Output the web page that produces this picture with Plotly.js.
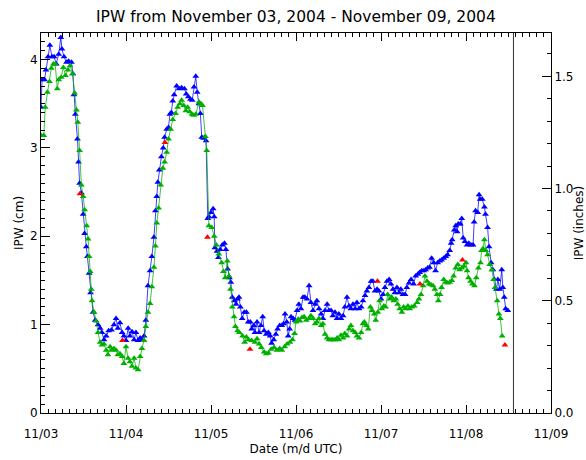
<!DOCTYPE html>
<html>
<head>
<meta charset="utf-8">
<script src="https://cdn.plot.ly/plotly-3.0.1.min.js"></script>
<style>html,body{margin:0;padding:0;background:#fff;}#chart{width:586px;height:460px;}</style>
</head>
<body>
<div id="chart"></div>
<script>
// Hours since 2004-11-03 00:00 UTC, and IPW in cm
const blueHours = [0,0.3,1.0,1.4,2.0,2.5,3.1,3.7,4.3,5.0,5.6,5.9,6.5,7.2,7.8,8.6,9.0,9.3,9.7,10.3,
  10.6,10.9,11.4,11.9,12.3,12.8,13.1,13.6,14.0,14.7,15.3,16.1,16.7,17.2,17.8,18.4,19.1,19.9,20.6,21.2,
  21.7,22.3,22.9,23.4,24.0,24.6,25.1,25.7,26.3,26.8,27.4,28.0,28.5,29.1,29.6,30.2,30.8,31.3,31.9,32.3,
  32.7,33.0,33.4,34.0,34.5,34.9,35.5,36.0,36.4,36.8,37.2,
  37.6,38.3,39.0,39.7,40.5,41.0,41.6,42.2,42.7,43.2,43.7,44.1,44.6,45.0,45.4,45.9,46.6,47.1,47.4,48.0,
  48.6,48.9,49.1,49.7,50.1,50.6,51.2,51.8,52.2,52.7,53.2,53.6,54.0,54.6,55.1,55.5,55.9,56.3,56.8,57.4,
  58.0,58.5,59.1,59.5,60.1,60.4,61.0,61.6,62.1,62.6,63.0,63.6,64.2,64.7,65.1,65.7,66.3,66.8,67.4,68.0,
  68.5,68.9,
  69.4,69.8,70.2,70.6,71.2,71.7,72.3,72.8,73.4,74.0,74.5,75.1,75.7,76.2,76.8,77.4,77.9,78.5,79.1,79.6,
  80.2,80.8,81.3,81.9,82.4,83.0,83.6,84.1,84.7,85.3,85.8,86.4,87.0,87.5,88.1,88.7,89.2,89.8,90.4,90.9,
  91.5,92.0,92.6,93.2,93.7,94.3,94.9,95.4,96.0,96.6,97.1,97.7,98.3,98.8,99.4,99.9,100.5,101.1,101.6,102.2,
  102.8,103.3,103.9,104.5,
  105.2,105.8,106.4,106.9,107.5,108.1,108.6,109.2,109.7,110.3,110.9,111.4,112.0,112.6,113.1,113.7,114.3,114.8,115.4,115.8,
  116.1,116.7,117.1,117.5,117.8,118.4,118.8,119.2,119.7,120.3,120.8,121.4,122.0,122.3,122.7,123.3,123.7,124.0,124.6,125.2,
  125.5,126.1,126.5,127.1,127.6,128.0,128.6,129.0,129.5,130.1,130.4,130.8,131.2,131.8];
const blueCm = [3.46,3.77,3.77,3.88,4.03,4.16,4.03,4.03,3.95,4.06,4.25,4.12,4.03,3.97,3.98,3.97,3.84,3.6,3.38,3.1,
  2.84,2.6,2.49,2.25,2.03,1.88,1.77,1.58,1.36,1.14,1.05,1.0,0.96,0.91,0.83,0.87,0.93,0.94,1.0,1.07,
  0.96,1.02,0.91,0.87,0.82,0.96,0.87,0.92,0.83,0.91,0.82,0.85,0.83,0.87,1.05,1.44,1.61,1.77,1.99,2.29,
  2.45,2.61,2.75,2.9,3.0,3.12,3.21,3.23,3.38,3.4,3.53,
  3.6,3.7,3.67,3.68,3.67,3.61,3.58,3.55,3.54,3.69,3.81,3.63,3.5,3.39,3.12,3.11,3.08,2.2,2.22,2.27,
  2.31,2.22,1.87,1.83,1.76,1.85,1.9,1.92,1.85,1.63,1.53,1.48,1.31,1.27,1.23,1.29,1.31,1.2,1.07,1.14,
  1.14,1.03,1.03,0.95,0.99,0.91,1.03,0.91,0.99,1.09,0.93,0.89,0.91,0.87,0.79,0.83,0.89,0.95,0.99,0.99,
  1.01,1.12,
  1.03,0.87,0.95,1.09,1.07,1.05,1.16,1.23,1.18,1.31,1.31,1.29,1.44,1.25,1.16,1.23,1.27,1.18,1.12,1.07,
  1.16,1.23,1.16,1.16,1.1,1.14,1.07,1.12,1.07,1.1,1.2,1.31,1.21,1.18,1.23,1.18,1.25,1.18,1.2,1.27,
  1.33,1.38,1.42,1.49,1.49,1.38,1.4,1.38,1.29,1.34,1.42,1.49,1.51,1.46,1.4,1.36,1.42,1.36,1.4,1.34,
  1.34,1.42,1.47,1.51,
  1.46,1.55,1.57,1.59,1.61,1.61,1.62,1.64,1.65,1.75,1.7,1.61,1.7,1.72,1.73,1.75,1.77,1.79,1.84,1.92,
  1.96,2.07,2.12,2.05,2.14,2.14,2.2,1.98,1.94,1.9,1.92,1.9,1.9,2.16,2.29,2.27,2.47,2.42,2.42,2.33,
  2.25,2.1,1.88,1.7,1.62,1.51,1.4,1.51,1.4,1.62,1.42,1.31,1.18,1.16];

const greenHours = [0.1,0.8,1.2,1.8,2.4,2.9,3.5,4.0,4.6,5.0,5.7,6.3,6.9,7.6,8.2,8.9,9.5,10.0,10.4,10.9,
  11.4,11.9,12.3,12.9,13.3,13.6,13.9,14.2,14.4,15.0,15.6,16.1,16.7,17.2,17.8,18.4,18.9,19.5,20.0,20.6,
  21.2,21.7,22.3,22.9,23.4,24.0,24.6,25.1,25.7,26.3,26.8,27.4,28.0,28.5,29.1,29.6,30.2,30.8,31.3,31.9,
  32.3,32.7,33.2,33.8,34.4,34.9,35.5,36.0,36.6,37.2,
  38.0,38.6,39.2,39.7,40.3,40.9,41.4,42.0,42.6,43.1,43.7,44.6,45.2,45.6,46.4,46.8,47.4,48.2,48.9,49.5,
  50.2,51.0,51.5,52.0,52.6,53.1,53.5,54.0,54.5,54.9,55.5,56.0,56.9,57.5,58.0,58.6,59.5,60.4,61.0,61.6,
  62.2,63.0,63.6,64.2,65.0,65.8,66.6,67.4,68.0,68.8,69.5,70.3,71.0,71.6,72.0,
  72.6,73.1,73.7,74.3,74.9,75.7,76.2,76.8,77.4,77.9,78.5,79.1,79.6,80.2,80.8,81.3,81.9,82.4,83.0,83.6,
  84.1,84.7,85.3,85.8,86.4,87.0,87.5,88.1,88.7,89.2,89.8,90.4,90.9,91.3,91.9,92.4,93.0,93.5,94.1,94.5,
  95.1,95.6,96.2,96.8,97.3,97.9,98.5,99.0,99.6,100.2,100.7,101.3,101.9,102.4,103.0,103.6,104.1,104.7,
  105.4,106.2,106.7,107.3,107.9,108.4,109.0,109.6,110.1,110.7,111.2,111.8,112.2,112.7,113.1,113.7,114.3,114.8,115.4,116.0,
  116.5,117.1,117.7,118.2,118.8,119.4,120.0,120.3,120.7,121.3,121.8,122.4,122.9,123.5,124.1,124.4,124.8,125.2,125.6,126.1,
  126.7,127.3,127.8,128.2,128.8,129.3,129.7,130.2];
const greenCm = [3.14,3.14,3.46,3.63,3.75,3.9,3.95,3.95,3.67,3.77,3.8,3.91,3.82,3.88,3.93,3.84,3.62,3.43,3.29,2.97,
  2.58,2.45,2.3,2.12,1.97,1.77,1.6,1.4,1.27,1.14,1.04,0.91,0.8,0.77,0.78,0.71,0.66,0.75,0.71,0.73,
  0.71,0.66,0.67,0.64,0.56,0.75,0.62,0.58,0.53,0.62,0.51,0.49,0.64,0.73,0.82,0.98,1.14,1.24,1.43,1.65,
  1.89,2.15,2.32,2.58,2.77,2.84,2.95,3.1,3.21,3.32,
  3.39,3.46,3.5,3.54,3.48,3.42,3.46,3.41,3.38,3.37,3.38,3.52,3.5,3.48,3.13,2.97,2.12,2.1,2.0,1.9,
  1.8,1.7,1.6,1.53,1.72,1.55,1.4,1.2,1.09,0.98,0.93,0.91,0.87,0.8,0.86,0.83,0.82,0.8,0.84,0.78,
  0.74,0.69,0.67,0.68,0.72,0.74,0.71,0.73,0.71,0.75,0.78,0.8,0.83,0.9,1.03,
  1.06,1.04,1.08,1.09,1.05,1.07,1.1,1.07,1.01,1.03,1.07,0.99,1.01,0.89,0.85,0.83,0.83,0.83,0.83,0.85,
  0.83,0.88,0.85,0.9,0.87,0.95,0.99,0.93,0.91,0.87,0.85,0.91,1.01,1.03,0.99,0.95,1.2,1.16,1.12,1.05,
  1.14,1.27,1.18,1.21,1.2,1.34,1.29,1.31,1.27,1.29,1.23,1.18,1.14,1.2,1.18,1.21,1.18,1.2,
  1.21,1.25,1.29,1.34,1.44,1.55,1.49,1.46,1.45,1.44,1.4,1.34,1.27,1.34,1.42,1.51,1.48,1.47,1.48,1.5,
  1.55,1.64,1.68,1.62,1.64,1.66,1.7,1.61,1.53,1.49,1.46,1.44,1.53,1.64,1.7,1.84,1.86,1.96,1.84,1.79,
  1.68,1.62,1.51,1.42,1.27,1.12,1.07,0.87];

const sondeHours = [11, 23, 35, 47, 59, 95, 107, 119, 131];
const sondeCm = [2.48, 0.82, 3.06, 1.99, 0.72, 1.49, 1.46, 1.73, 0.77];

const endHour = 133.4;            // vertical marker (latest data time)
const startDay = Date.UTC(2004, 10, 3);
const endDay = Date.UTC(2004, 10, 9);
const cmTop = 4.3;
const CM_PER_INCH = 2.54;

const toMs = h => startDay + h * 3600000;
const FONT = 'DejaVu Sans, Liberation Sans, sans-serif';

const traces = [
  // invisible companion series in inches, so the right-hand axis is drawn
  {x: blueHours.map(toMs), y: blueCm.map(v => v / CM_PER_INCH), yaxis: 'y2', type: 'scatter',
   mode: 'markers', marker: {opacity: 0, size: 1}, hoverinfo: 'skip', showlegend: false},
  {x: blueHours.map(toMs), y: blueCm, type: 'scatter', mode: 'lines+markers',
   line: {color: 'rgba(0,0,255,0.75)', width: 1},
   marker: {symbol: 'triangle-up', size: 6, color: '#0000ff'}, hoverinfo: 'x+y'},
  {x: greenHours.map(toMs), y: greenCm, type: 'scatter', mode: 'lines+markers',
   line: {color: 'rgba(0,175,0,0.75)', width: 1},
   marker: {symbol: 'triangle-up', size: 6, color: '#00b000'}, hoverinfo: 'x+y'},
  {x: sondeHours.map(toMs), y: sondeCm, type: 'scatter', mode: 'markers',
   marker: {symbol: 'triangle-up', size: 6, color: '#ff0000'}, hoverinfo: 'x+y'}
];

const TICKFONT = {family: FONT, size: 12, color: '#000'};

const layout = {
  width: 586, height: 460,
  margin: {l: 41, r: 35, t: 33, b: 47, pad: 0},
  paper_bgcolor: '#fff', plot_bgcolor: 'rgba(0,0,0,0)',
  showlegend: false,
  font: {family: FONT, color: '#000'},
  title: {text: 'IPW from November 03, 2004 - November 09, 2004',
          font: {family: FONT, size: 15.5, color: '#000'},
          x: 0.505, xanchor: 'center', y: 0.963, yanchor: 'middle'},
  xaxis: {
    type: 'date', range: [startDay, endDay], tick0: startDay, dtick: 86400000,
    tickformat: '%m/%d', ticks: 'inside', ticklen: 8, tickwidth: 1, tickcolor: '#000',
    showline: true, linecolor: '#000', linewidth: 1, mirror: 'ticks',
    showgrid: false, zeroline: false, tickfont: TICKFONT, ticklabelstandoff: 10,
    minor: {dtick: 7200000, ticklen: 4, ticks: 'inside', tickcolor: '#000', tickwidth: 1, showgrid: false},
    title: {text: 'Date (m/d UTC)', font: {family: FONT, size: 12, color: '#000'}, standoff: 4}
  },
  yaxis: {
    range: [0, cmTop], tick0: 0, dtick: 1, ticks: 'inside', ticklen: 9, tickwidth: 1, tickcolor: '#000',
    showline: true, linecolor: '#000', linewidth: 1, mirror: false,
    showgrid: false, zeroline: false, tickfont: TICKFONT,
    minor: {dtick: 0.1, ticklen: 4, ticks: 'inside', tickcolor: '#000', tickwidth: 1, showgrid: false},
    title: {text: 'IPW (cm)', font: {family: FONT, size: 12, color: '#000'}, standoff: 3}
  },
  yaxis2: {
    overlaying: 'y', side: 'right', anchor: 'x', range: [0, cmTop / CM_PER_INCH], tick0: 0, dtick: 0.5,
    tickformat: '.1f', ticks: 'inside', ticklen: 9, tickwidth: 1, tickcolor: '#000',
    showline: true, linecolor: '#000', linewidth: 1,
    showgrid: false, zeroline: false, tickfont: TICKFONT,
    minor: {dtick: 0.1, ticklen: 4, ticks: 'inside', tickcolor: '#000', tickwidth: 1, showgrid: false},
    title: {text: 'IPW (inches)', font: {family: FONT, size: 12, color: '#000'}, standoff: 2}
  },
  shapes: [{type: 'line', xref: 'x', yref: 'paper', x0: toMs(endHour), x1: toMs(endHour), y0: 0, y1: 1,
            line: {color: '#333', width: 1}}]
};

Plotly.newPlot('chart', traces, layout, {displayModeBar: false});
</script>
</body>
</html>
